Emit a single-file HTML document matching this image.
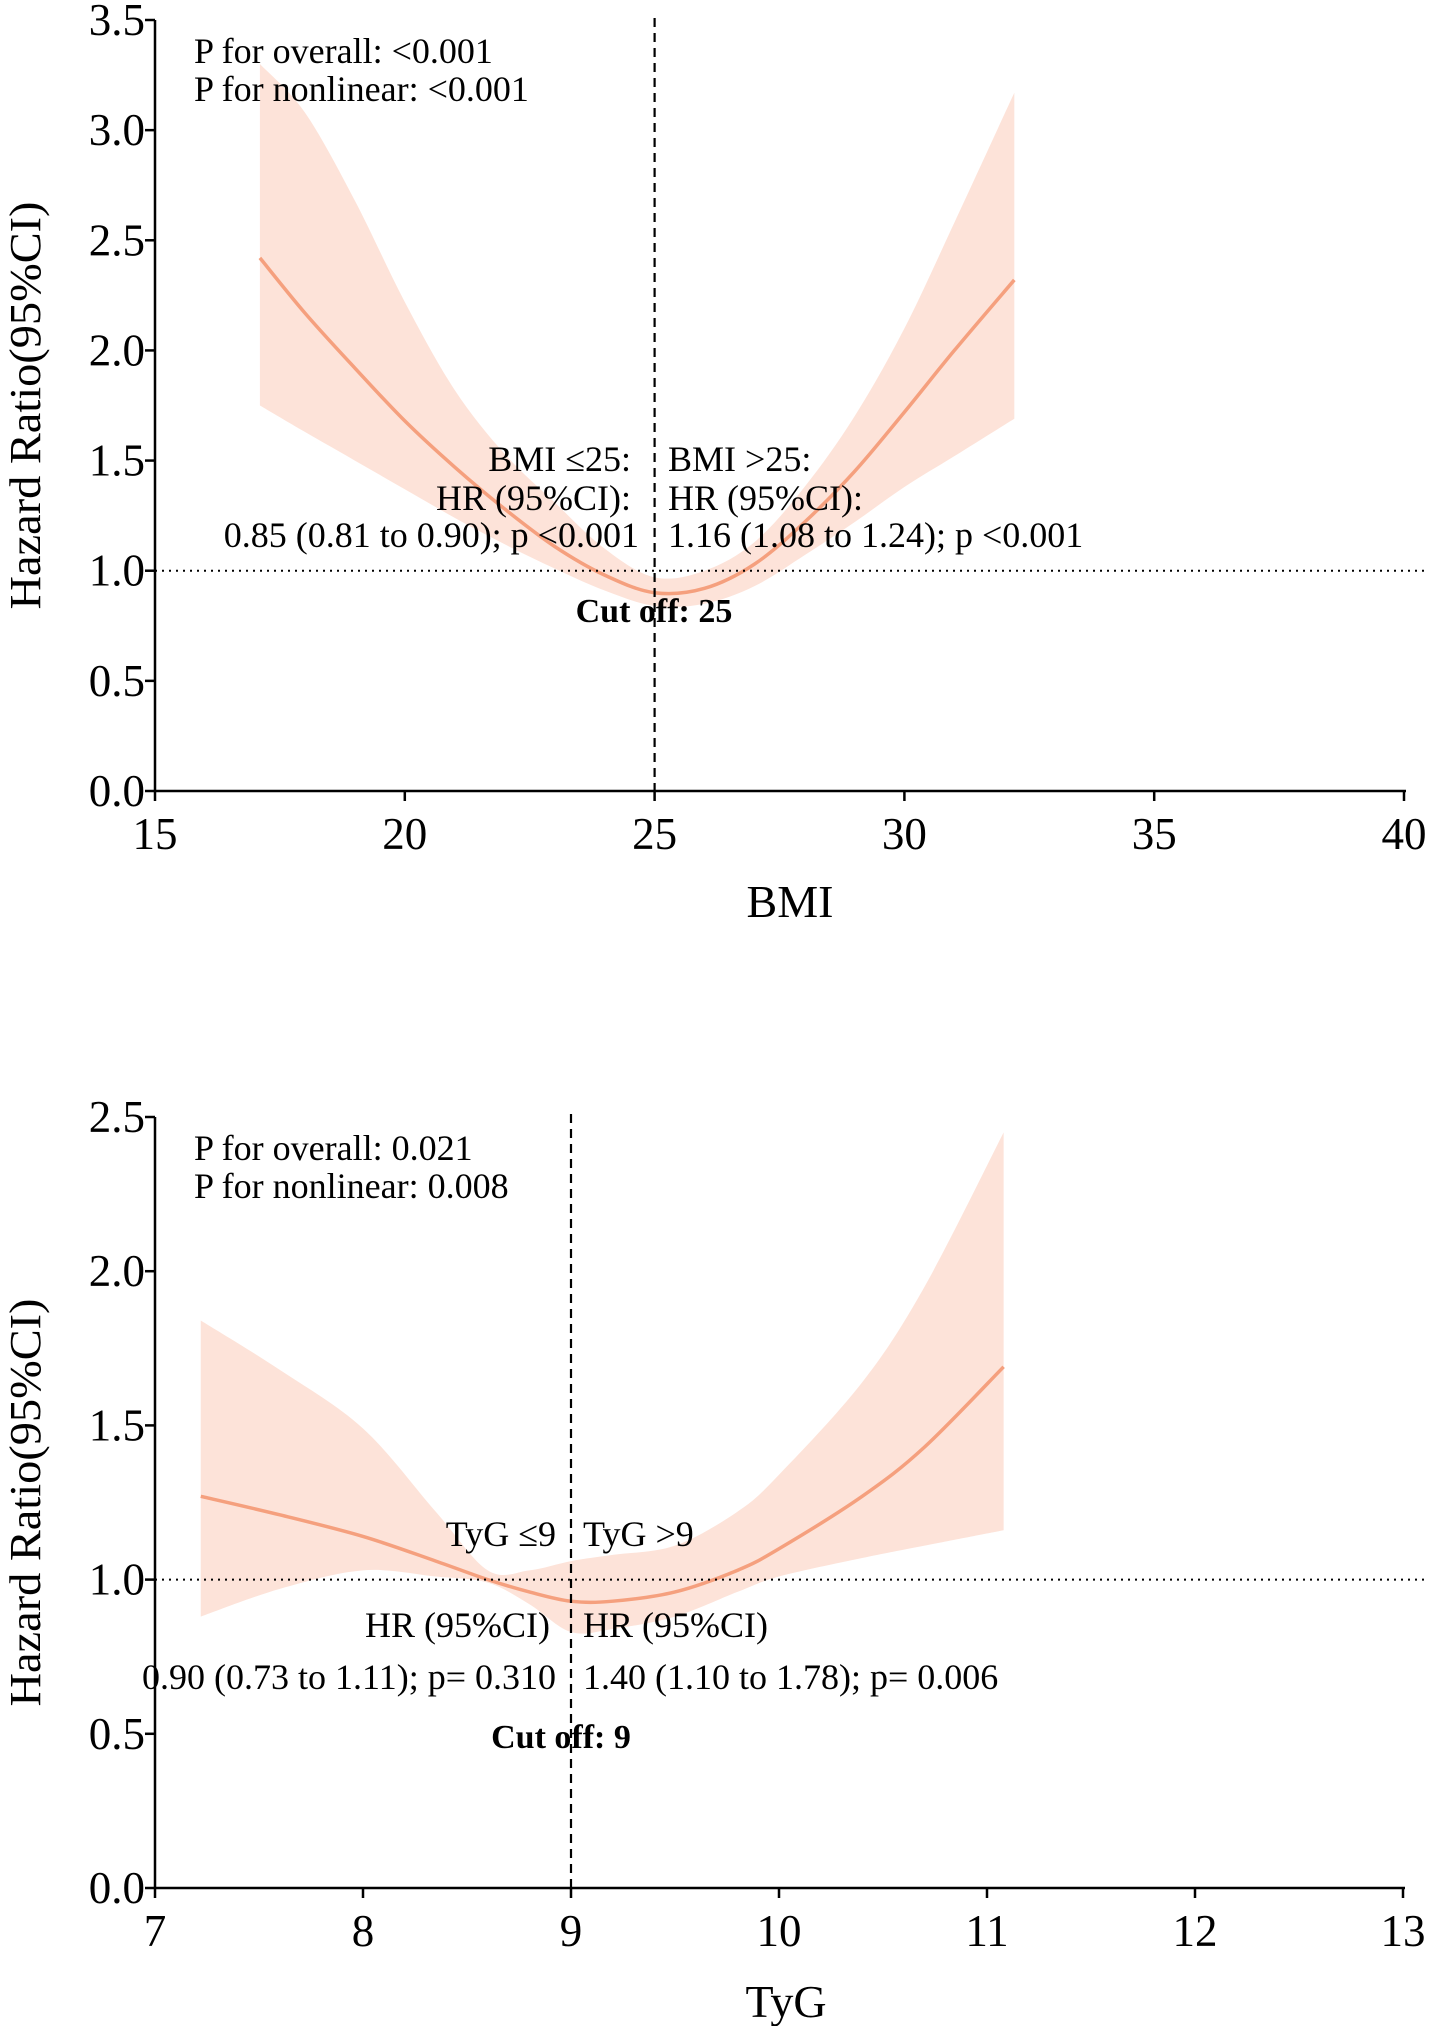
<!DOCTYPE html>
<html><head><meta charset="utf-8"><style>
body{margin:0;background:#fff}
svg{display:block;font-family:"Liberation Serif",serif}
</style></head><body>
<svg id="chart" width="1429" height="2026" viewBox="0 0 1429 2026">
<g id="top"></g>
<g id="bot"></g>
</svg>
<script>
// BMI panel data
const bmiX = [17.1,18,19,20,21,22,23,24,25,26,27,28,29,30,31,32.2];
const bmiHR = [2.42,2.17,1.92,1.68,1.47,1.28,1.11,0.98,0.90,0.92,1.03,1.22,1.45,1.72,2.00,2.32];
const bmiLo = [1.75,1.63,1.50,1.37,1.24,1.12,1.01,0.91,0.84,0.85,0.93,1.07,1.22,1.38,1.52,1.69];
const bmiUp = [3.30,3.08,2.68,2.22,1.82,1.53,1.31,1.10,0.97,1.00,1.13,1.38,1.70,2.10,2.58,3.17];
const bmiXTicks = [15,20,25,30,35,40];
const bmiYTicks = ["0.0","0.5","1.0","1.5","2.0","2.5","3.0","3.5"];
// TyG panel data
const tygX = [7.22,7.6,8.0,8.35,8.6,8.8,9.0,9.2,9.5,9.8,10.0,10.4,10.7,11.08];
const tygHR = [1.27,1.21,1.14,1.06,1.0,0.96,0.93,0.93,0.96,1.03,1.10,1.27,1.43,1.69];
const tygLo = [0.88,0.97,1.03,1.01,0.99,0.92,0.83,0.84,0.88,0.96,1.01,1.07,1.11,1.16];
const tygUp = [1.84,1.68,1.49,1.22,1.03,1.03,1.06,1.08,1.11,1.22,1.34,1.64,1.95,2.45];
const tygXTicks = [7,8,9,10,11,12,13];
const tygYTicks = ["0.0","0.5","1.0","1.5","2.0","2.5"];

const NS="http://www.w3.org/2000/svg";
function mk(parent,tag,attrs,text){const e=document.createElementNS(NS,tag);for(const k in attrs)e.setAttribute(k,attrs[k]);if(text!==undefined)e.textContent=text;parent.appendChild(e);return e;}
function spline(pts){let d="M"+pts[0][0]+","+pts[0][1];for(let i=0;i<pts.length-1;i++){const p0=pts[i-1]||pts[i],p1=pts[i],p2=pts[i+1],p3=pts[i+2]||p2;
d+=" C"+(p1[0]+(p2[0]-p0[0])/6)+","+(p1[1]+(p2[1]-p0[1])/6)+" "+(p2[0]-(p3[0]-p1[0])/6)+","+(p2[1]-(p3[1]-p1[1])/6)+" "+p2[0]+","+p2[1];}return d;}

function panel(g,cfg){
  const sx=v=>cfg.x0+(v-cfg.xmin)/(cfg.xmax-cfg.xmin)*(cfg.x1-cfg.x0);
  const sy=v=>cfg.y0-(v-0)/(cfg.ymax)*(cfg.y0-cfg.y1);
  const up=cfg.xs.map((x,i)=>[sx(x),sy(cfg.up[i])]);
  const lo=cfg.xs.map((x,i)=>[sx(x),sy(cfg.lo[i])]).reverse();
  const band=mk(g,"path",{d:spline(up)+" L"+lo[0][0]+","+lo[0][1]+spline(lo).replace(/^M[^ ]+/,"")+" Z",fill:"#fde3d9"});
  
  
  const line=mk(g,"path",{d:spline(cfg.xs.map((x,i)=>[sx(x),sy(cfg.hr[i])])),fill:"none",stroke:"#f5a07e","stroke-width":3.5});
  
  
  const ref=mk(g,"line",{x1:cfg.x0,x2:1429,y1:sy(1),y2:sy(1),stroke:"#000","stroke-width":2,"stroke-dasharray":"2,5"});
  
  
  const cut=mk(g,"line",{x1:sx(cfg.cut),x2:sx(cfg.cut),y1:cfg.cutTop,y2:cfg.y0,stroke:"#000","stroke-width":2.2,"stroke-dasharray":"9,6"});
  
  
  const ax=mk(g,"path",{d:`M${cfg.x0},${cfg.y1} V${cfg.y0} H${cfg.x1+2}`,fill:"none",stroke:"#000","stroke-width":2.5});
  
  
  cfg.xt.forEach(t=>{mk(g,"line",{x1:sx(t),x2:sx(t),y1:cfg.y0,y2:cfg.y0+10,stroke:"#000","stroke-width":2.5});
    const tx=mk(g,"text",{x:sx(t),y:cfg.y0+58,"font-size":45,"text-anchor":"middle"},String(t));
    
    });
  cfg.yt.forEach(t=>{const v=parseFloat(t);mk(g,"line",{x1:cfg.x0-10,x2:cfg.x0,y1:sy(v),y2:sy(v),stroke:"#000","stroke-width":2.5});
    const ty=mk(g,"text",{x:cfg.x0-10,y:sy(v)+15,"font-size":45,"text-anchor":"end"},t);
    
    });
  const yt=mk(g,"text",{transform:`translate(40,${(cfg.y0+cfg.y1)/2}) rotate(-90)`,"font-size":44,"text-anchor":"middle",textLength:408,lengthAdjust:"spacingAndGlyphs"},"Hazard Ratio(95%CI)");
  
  
  const xt=mk(g,"text",{x:cfg.xtx,y:cfg.xty,"font-size":46,"text-anchor":"middle"},cfg.xlabel);
  
  
  cfg.notes.forEach(n=>{const e=mk(g,"text",{x:n[0],y:n[1],"font-size":n[4]||36,"text-anchor":n[2],"font-weight":n[5]||"normal"},n[3]);
    
    });
}
panel(document.getElementById('top'),{x0:155,x1:1404,y0:791,y1:20,xmin:15,xmax:40,ymax:3.5,xs:bmiX,hr:bmiHR,lo:bmiLo,up:bmiUp,xt:bmiXTicks,yt:bmiYTicks,cut:25,cutTop:18,xlabel:"BMI",xtx:790,xty:917,
 notes:[[194,63,"start","P for overall:  <0.001"],[194,101,"start","P for nonlinear:  <0.001"],
 [631,471,"end","BMI \u226425:"],[631,510,"end","HR (95%CI):"],[639,547,"end","0.85 (0.81 to 0.90); p <0.001"],
 [668,471,"start","BMI >25:"],[668,510,"start","HR (95%CI):"],[668,547,"start","1.16 (1.08 to 1.24); p <0.001"],
 [654,622,"middle","Cut off: 25",34,"bold"]]});
panel(document.getElementById('bot'),{x0:155,x1:1403,y0:1888,y1:1117,xmin:7,xmax:13,ymax:2.5,xs:tygX,hr:tygHR,lo:tygLo,up:tygUp,xt:tygXTicks,yt:tygYTicks,cut:9,cutTop:1114,xlabel:"TyG",xtx:786,xty:2017,
 notes:[[194,1160,"start","P for overall: 0.021"],[194,1198,"start","P for nonlinear: 0.008"],
 [556,1546,"end","TyG \u22649"],[583,1546,"start","TyG >9"],[550,1637,"end","HR (95%CI)"],[583,1637,"start","HR (95%CI)"],
 [556,1689,"end","0.90 (0.73 to 1.11); p= 0.310"],[583,1689,"start","1.40 (1.10 to 1.78); p= 0.006"],
 [561,1748,"middle","Cut off: 9",34,"bold"]]});
</script>
</body></html>
